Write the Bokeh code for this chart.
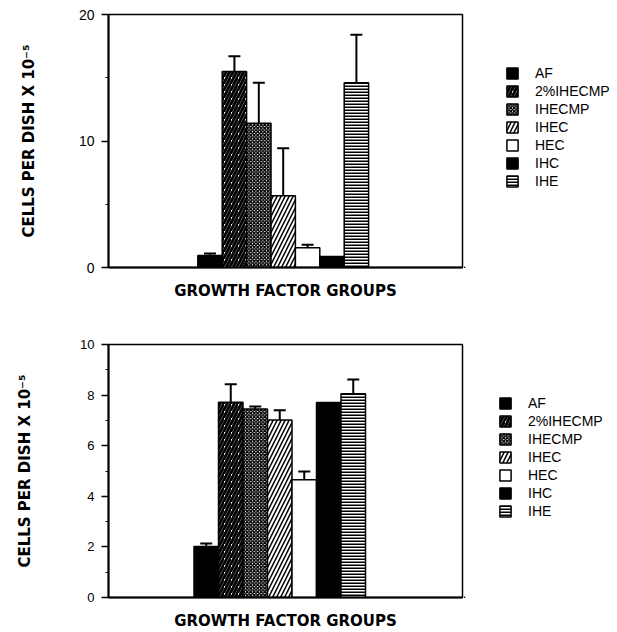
from bokeh.plotting import figure
from bokeh.models import (ColumnDataSource, Range1d, FixedTicker, Whisker, TeeHead,
                          Legend, LegendItem)
from bokeh.layouts import column, row
from bokeh.embed import file_html
from bokeh.resources import INLINE

# ---------------- data ----------------
groups = ["AF", "2%IHECMP", "IHECMP", "IHEC", "HEC", "IHC", "IHE"]

top_values = [0.95, 15.5, 11.4, 5.67, 1.56, 0.87, 14.6]
top_errors = [0.15, 1.2, 3.2, 3.76, 0.24, 0.0, 3.8]

bottom_values = [2.02, 7.72, 7.45, 7.02, 4.65, 7.71, 8.05]
bottom_errors = [0.11, 0.71, 0.10, 0.38, 0.33, 0.0, 0.57]

top_ticks = [0, 10, 20]
top_minor_ticks = [5, 15]
bottom_ticks = [0, 2, 4, 6, 8, 10]
bottom_minor_ticks = [1, 3, 5, 7, 9]

y_label = "CELLS PER DISH X 10\u207b\u2075"
x_label = "GROWTH FACTOR GROUPS"

# ---------------- styles ----------------
fills = ["black", "white", "white", "white", "white", "black", "white"]
hatches = [" ", "/", "x", "/", " ", " ", "-"]
hatch_colors = ["black", "black", "black", "black", "black", "black", "black"]
hatch_scales = [6, 7, 3.5, 8, 6, 6, 3]
hatch_weights = [1, 2.8, 1.5, 1.5, 1, 1, 2]

MAIN_W = 464
LEG_W = 617 - MAIN_W


def make_panel(values, errors, ticks, minor, y_end, height, b_top, b_bottom,
               first_x, x_end, legend_xy, tick_size, ylab_standoff):
    xs = [first_x + i for i in range(len(groups))]
    src = ColumnDataSource(dict(
        x=xs, top=values, group=groups, fill=fills, hatch=hatches,
        hcolor=hatch_colors, hscale=hatch_scales, hweight=hatch_weights))
    bar_style = dict(fill_color="fill", line_color="black", line_width=1.5,
                     hatch_pattern="hatch", hatch_color="hcolor",
                     hatch_scale="hscale", hatch_weight="hweight")

    p = figure(width=MAIN_W, height=height, output_backend="svg",
               toolbar_location=None,
               x_range=Range1d(0, x_end), y_range=Range1d(0, y_end),
               min_border_left=108, min_border_right=2,
               min_border_top=b_top, min_border_bottom=b_bottom)
    p.outline_line_color = "black"
    p.outline_line_width = 1.5
    p.xgrid.visible = False
    p.ygrid.visible = False
    p.background_fill_color = "white"

    p.vbar(x="x", top="top", bottom=0, width=1.0, source=src, **bar_style)

    ex = [x for x, e in zip(xs, errors) if e > 0]
    elo = [v for v, e in zip(values, errors) if e > 0]
    ehi = [v + e for v, e in zip(values, errors) if e > 0]
    esrc = ColumnDataSource(dict(base=ex, lower=elo, upper=ehi))
    w = Whisker(base="base", lower="lower", upper="upper", source=esrc,
                dimension="height", line_color="black", line_width=2,
                lower_head=None,
                upper_head=TeeHead(size=12, line_width=2, line_color="black"),
                level="overlay")
    p.add_layout(w)

    # y axis
    ya = p.yaxis[0]
    ya.ticker = FixedTicker(ticks=ticks, minor_ticks=minor)
    ya.axis_line_width = 2
    ya.major_tick_in = 0
    ya.major_tick_out = 7
    ya.major_tick_line_width = 1.5
    ya.minor_tick_in = 0
    ya.minor_tick_out = 3
    ya.major_label_standoff = 7
    ya.major_label_text_font = "Liberation Sans"
    ya.major_label_text_font_size = tick_size
    ya.major_label_text_color = "black"
    ya.axis_label = y_label
    ya.axis_label_text_font = "DejaVu Sans"
    ya.axis_label_text_font_style = "bold"
    ya.axis_label_text_font_size = "15px"
    ya.axis_label_text_color = "black"
    ya.axis_label_standoff = ylab_standoff

    # x axis
    xa = p.xaxis[0]
    xa.ticker = FixedTicker(ticks=[])
    xa.axis_line_width = 2
    xa.major_tick_in = 0
    xa.major_tick_out = 0
    xa.minor_tick_in = 0
    xa.minor_tick_out = 0
    xa.major_label_standoff = 0
    xa.major_label_text_font_size = "0px"
    xa.axis_label = x_label
    xa.axis_label_text_font = "DejaVu Sans"
    xa.axis_label_text_font_style = "bold"
    xa.axis_label_text_font_size = "15px"
    xa.axis_label_text_color = "black"
    xa.axis_label_standoff = 14

    # legend figure (keys only; its bars lie outside its ranges)
    q = figure(width=LEG_W, height=height, output_backend="svg",
               toolbar_location=None, x_range=Range1d(1000, 1001),
               y_range=Range1d(1000, 1001),
               min_border_left=0, min_border_right=0,
               min_border_top=0, min_border_bottom=0)
    q.axis.visible = False
    q.grid.visible = False
    q.outline_line_color = None
    r = q.vbar(x="x", top="top", bottom=0, width=1.0, source=src, **bar_style)
    items = [LegendItem(label=g, renderers=[r], index=i) for i, g in enumerate(groups)]
    leg = Legend(items=items, location=legend_xy, glyph_width=14, glyph_height=14,
                 label_height=14, spacing=2, label_standoff=16, padding=0, margin=0,
                 border_line_color=None, background_fill_alpha=0,
                 label_text_font="Liberation Sans", label_text_font_size="14px",
                 label_text_color="black")
    q.add_layout(leg)
    return row(p, q, spacing=0)


top_panel = make_panel(top_values, top_errors, top_ticks, top_minor_ticks, 20, 320,
                       14, 53, 4.16, 354 / 24.4, (41, 78), "14px", 38)
bottom_panel = make_panel(bottom_values, bottom_errors, bottom_ticks, bottom_minor_ticks,
                          10, 312, 24, 33, 3.99, 354 / 24.5, (34, 78), "13px", 43)

layout = column(top_panel, bottom_panel, spacing=0)
open("out.html", "w").write(file_html(layout, INLINE))
